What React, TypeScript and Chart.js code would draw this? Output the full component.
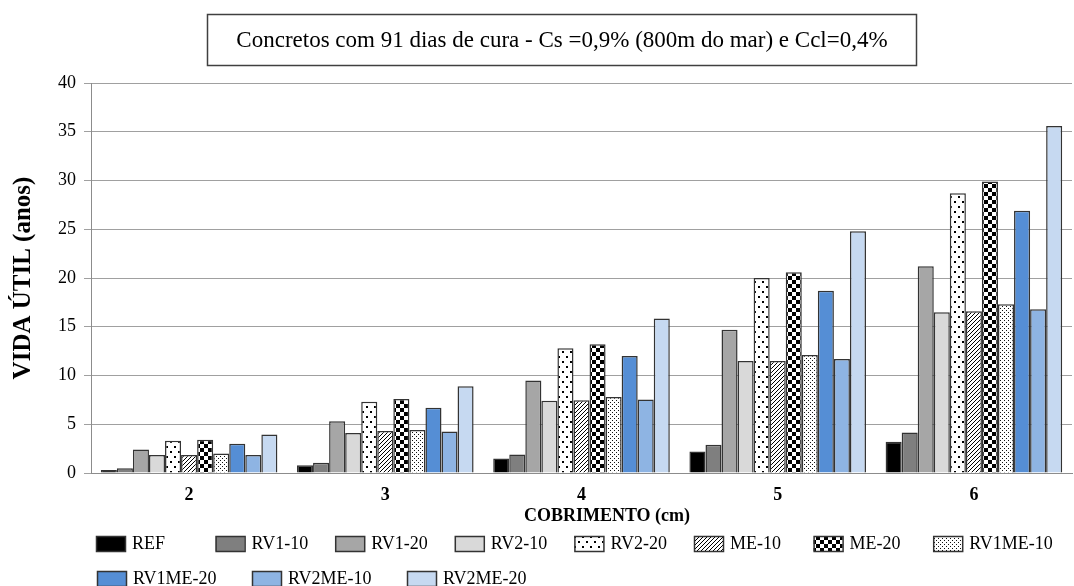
import { useEffect, useRef } from "react";
import { Chart, registerables } from "chart.js";

Chart.register(...registerables);

const titleText = "Concretos com 91 dias de cura - Cs =0,9% (800m do mar) e Ccl=0,4%";
const yTitle = "VIDA ÚTIL (anos)";
const xTitle = "COBRIMENTO (cm)";

const categories = ["2", "3", "4", "5", "6"];
const yTicks = [0, 5, 10, 15, 20, 25, 30, 35, 40];

const seriesNames = ["REF", "RV1-10", "RV1-20", "RV2-10", "RV2-20", "ME-10", "ME-20", "RV1ME-10", "RV1ME-20", "RV2ME-10", "RV2ME-20"];

const REF = [0.3, 0.8, 1.5, 2.2, 3.2];
const RV1_10 = [0.5, 1.05, 1.9, 2.9, 4.15];
const RV1_20 = [2.4, 5.3, 9.5, 14.7, 21.2];
const RV2_10 = [1.85, 4.1, 7.4, 11.5, 16.5];
const RV2_20 = [3.3, 7.3, 12.8, 20.0, 28.7];
const ME_10 = [1.85, 4.3, 7.45, 11.5, 16.6];
const ME_20 = [3.4, 7.6, 13.2, 20.6, 29.9];
const RV1ME_10 = [2.0, 4.4, 7.8, 12.1, 17.3];
const RV1ME_20 = [3.0, 6.7, 12.0, 18.7, 26.9];
const RV2ME_10 = [1.85, 4.25, 7.55, 11.7, 16.8];
const RV2ME_20 = [3.95, 8.9, 15.85, 24.8, 35.6];

const seriesValues = [REF, RV1_10, RV1_20, RV2_10, RV2_20, ME_10, ME_20, RV1ME_10, RV1ME_20, RV2ME_10, RV2ME_20];

// fill kinds: colour or pattern name
const seriesFills = ["#000000", "#7f7f7f", "#a6a6a6", "#d9d9d9", "p:sparse", "p:diag", "p:checker", "p:dense", "#558ed5", "#8eb4e3", "#c6d9f1"];

const SERIF = "'Liberation Serif', 'Times New Roman', serif";

function makePattern(kind: string): CanvasPattern | string {
  const c = document.createElement("canvas");
  const ctx = c.getContext("2d")!;
  if (kind === "sparse") {
    c.width = 8; c.height = 10;
    ctx.fillStyle = "#fff"; ctx.fillRect(0, 0, 8, 10);
    ctx.fillStyle = "#000";
    ctx.fillRect(2, 1, 2, 2);
    ctx.fillRect(6, 6, 2, 2);
  } else if (kind === "diag") {
    c.width = 4; c.height = 4;
    ctx.fillStyle = "#fff"; ctx.fillRect(0, 0, 4, 4);
    ctx.fillStyle = "#000";
    for (let i = 0; i < 4; i++) ctx.fillRect(3 - i, i, 1, 1);
  } else if (kind === "checker") {
    c.width = 8; c.height = 8;
    ctx.fillStyle = "#fff"; ctx.fillRect(0, 0, 8, 8);
    ctx.fillStyle = "#000";
    ctx.fillRect(0, 0, 4, 4);
    ctx.fillRect(4, 4, 4, 4);
  } else {
    c.width = 4; c.height = 4;
    ctx.fillStyle = "#fff"; ctx.fillRect(0, 0, 4, 4);
    ctx.fillStyle = "#111";
    ctx.fillRect(0, 0, 1, 1);
    ctx.fillRect(2, 2, 1, 1);
  }
  const p = ctx.createPattern(c, "repeat");
  return p || "#fff";
}

const decorPlugin = {
  id: "decor",
  afterDraw(chart: any) {
    const ctx = chart.ctx as CanvasRenderingContext2D;
    ctx.save();
    // title box
    ctx.strokeStyle = "#404040";
    ctx.lineWidth = 1.5;
    ctx.strokeRect(207.5, 14.5, 709, 51);
    ctx.fillStyle = "#000";
    ctx.font = `23px ${SERIF}`;
    ctx.textAlign = "center";
    ctx.textBaseline = "middle";
    ctx.fillText(titleText, 562, 41);
    // x axis title
    ctx.font = `bold 18px ${SERIF}`;
    ctx.fillText(xTitle, 607, 516);
    // legend
    const ds = chart.data.datasets;
    ctx.font = `18px ${SERIF}`;
    ctx.textAlign = "left";
    ds.forEach((d: any, i: number) => {
      const row = i < 8 ? 0 : 1;
      const x = row === 0 ? 96 + i * 119.6 : 97 + (i - 8) * 155;
      const y = row === 0 ? 536 : 571;
      ctx.fillStyle = d.backgroundColor;
      ctx.fillRect(x, y, 29, 15);
      ctx.strokeStyle = "#333";
      ctx.lineWidth = 1.5;
      ctx.strokeRect(x + 0.5, y + 0.5, 29, 15);
      ctx.fillStyle = "#000";
      ctx.fillText(d.label, x + 36, y + 8);
    });
    ctx.restore();
  },
};

export default function App() {
  const ref = useRef<HTMLCanvasElement | null>(null);
  useEffect(() => {
    document.body.style.margin = "0";
    if (!ref.current) return;
    const datasets = seriesNames.map((name, i) => {
      const f = seriesFills[i];
      const bg = f.startsWith("p:") ? makePattern(f.slice(2)) : f;
      return {
        label: name,
        data: seriesValues[i],
        backgroundColor: bg as any,
        borderColor: "#333333",
        borderWidth: 1.5,
        categoryPercentage: 0.9,
        barPercentage: 1.0,
      };
    });
    const chart = new Chart(ref.current, {
      type: "bar",
      data: { labels: categories, datasets },
      plugins: [decorPlugin],
      options: {
        animation: false,
        responsive: true,
        maintainAspectRatio: false,
        layout: { padding: { top: 83, right: 2, bottom: 56, left: 0 } },
        plugins: {
          legend: { display: false },
          title: { display: false },
          tooltip: { enabled: false },
        },
        scales: {
          x: {
            grid: { display: false, drawTicks: false },
            border: { display: true, color: "#8c8c8c", width: 1 },
            ticks: { color: "#000", font: { family: SERIF, size: 18, weight: "bold" }, padding: 12 },
            afterFit: (s: any) => { s.height = 57; },
          },
          y: {
            min: 0,
            max: 40,
            afterBuildTicks: (s: any) => { s.ticks = yTicks.map((v) => ({ value: v })); },
            grid: { color: "#a0a0a0", lineWidth: 1, tickLength: 7, drawTicks: true },
            border: { display: true, color: "#8c8c8c", width: 1 },
            ticks: { color: "#000", font: { family: SERIF, size: 18 }, padding: 8 },
            title: { display: true, text: yTitle, color: "#000", font: { family: SERIF, size: 25, weight: "bold" }, padding: { top: 9, bottom: 0 } },
            afterFit: (s: any) => { s.width = 91; },
          },
        },
      },
    });
    return () => chart.destroy();
  }, []);
  return (
    <div style={{ width: 1074, height: 586, position: "relative", background: "#fff" }}>
      <canvas ref={ref} />
    </div>
  );
}
